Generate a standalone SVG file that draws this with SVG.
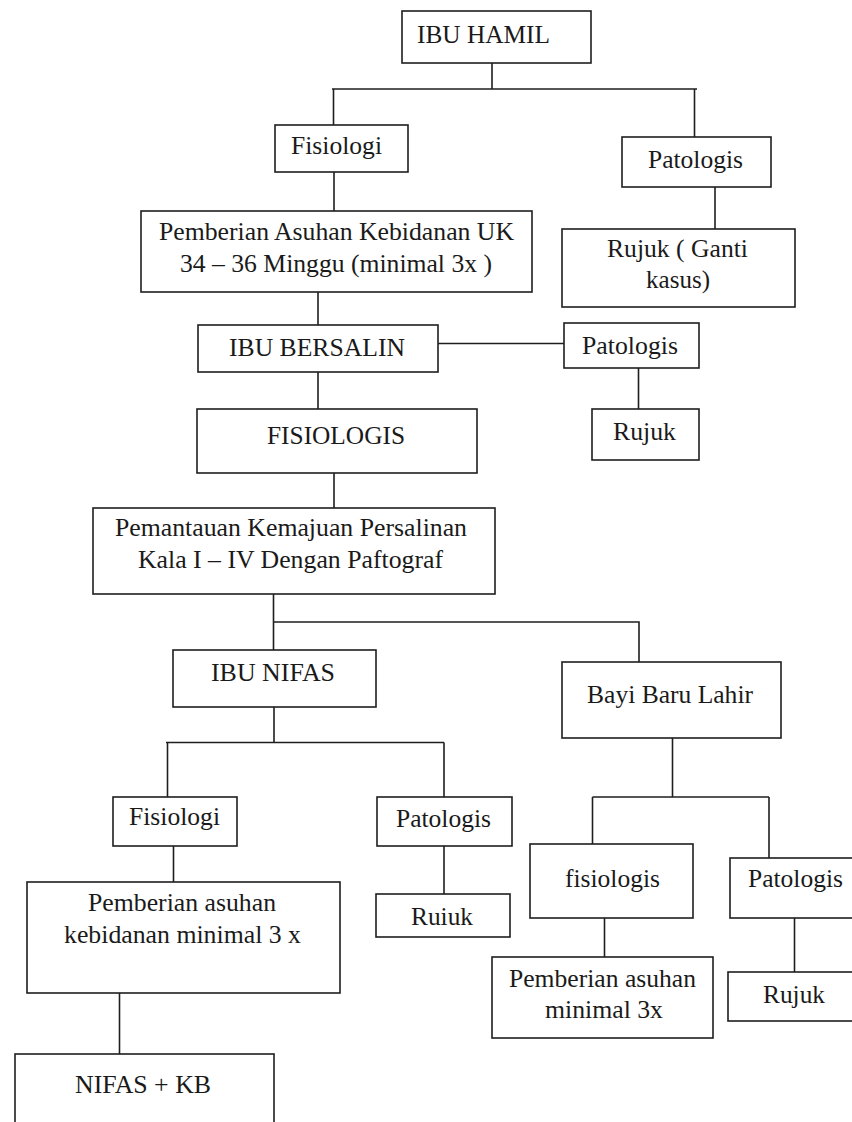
<svg xmlns="http://www.w3.org/2000/svg" width="852" height="1122" viewBox="0 0 852 1122" font-family="Liberation Serif, Times New Roman, Tinos, Noto Serif, DejaVu Serif, FreeSerif, serif">
<style>
  rect.box { fill: #ffffff; stroke: #1e1e1e; stroke-width: 1.6; }
  text { font-size: 25.5px; fill: #1a1a1a; }
  .conn path { fill: none; stroke: #1e1e1e; stroke-width: 1.6; }
</style>
<rect x="0" y="0" width="852" height="1122" fill="#ffffff"/>
<g class="conn" id="connectors">
  <path d="M492,63 V89"/>
  <path d="M332,89 H697"/>
  <path d="M333.5,89 V125"/>
  <path d="M694.5,89 V137"/>
  <path d="M715,187 V229"/>
  <path d="M334,172 V211"/>
  <path d="M318,292 V325"/>
  <path d="M438,343.5 H564"/>
  <path d="M638.5,368 V409"/>
  <path d="M318,372 V409"/>
  <path d="M334,473 V508"/>
  <path d="M273.5,594 V650"/>
  <path d="M273.5,622 H639 V662"/>
  <path d="M274,707 V742.5"/>
  <path d="M166,742.5 H444"/>
  <path d="M167.5,742.5 V797"/>
  <path d="M444,742.5 V797"/>
  <path d="M173.5,846 V882"/>
  <path d="M444,846 V894"/>
  <path d="M119.5,993 V1054"/>
  <path d="M672.5,738 V797"/>
  <path d="M592.5,797 H769"/>
  <path d="M592.5,797 V844"/>
  <path d="M769,797 V858"/>
  <path d="M604.5,918 V957"/>
  <path d="M794.5,918 V972"/>
</g>
<g id="ibu-hamil"><rect class="box" x="402" y="11" width="189" height="52"/><text x="417" y="43" textLength="133" lengthAdjust="spacingAndGlyphs">IBU HAMIL</text></g>
<g id="fisiologi-hamil"><rect class="box" x="275" y="125" width="133" height="47"/><text x="291" y="154" textLength="91" lengthAdjust="spacingAndGlyphs">Fisiologi</text></g>
<g id="patologis-hamil"><rect class="box" x="622" y="137" width="149" height="50"/><text x="648" y="168" textLength="95" lengthAdjust="spacingAndGlyphs">Patologis</text></g>
<g id="asuhan-hamil"><rect class="box" x="141" y="211" width="391" height="81"/><text x="159" y="240" textLength="355" lengthAdjust="spacingAndGlyphs">Pemberian Asuhan Kebidanan UK</text><text x="180" y="272" textLength="312" lengthAdjust="spacingAndGlyphs">34 – 36 Minggu (minimal 3x )</text></g>
<g id="rujuk-ganti"><rect class="box" x="562" y="229" width="233" height="78"/><text x="607" y="257" textLength="141" lengthAdjust="spacingAndGlyphs">Rujuk ( Ganti</text><text x="646" y="288" textLength="64" lengthAdjust="spacingAndGlyphs">kasus)</text></g>
<g id="ibu-bersalin"><rect class="box" x="198" y="325" width="240" height="47"/><text x="229" y="356" textLength="176" lengthAdjust="spacingAndGlyphs">IBU BERSALIN</text></g>
<g id="patologis-bersalin"><rect class="box" x="564" y="323" width="135" height="45"/><text x="582" y="354" textLength="96" lengthAdjust="spacingAndGlyphs">Patologis</text></g>
<g id="rujuk-bersalin"><rect class="box" x="592" y="409" width="107" height="51"/><text x="613" y="440" textLength="63" lengthAdjust="spacingAndGlyphs">Rujuk</text></g>
<g id="fisiologis-bersalin"><rect class="box" x="197" y="409" width="280" height="64"/><text x="267" y="444" textLength="138" lengthAdjust="spacingAndGlyphs">FISIOLOGIS</text></g>
<g id="pemantauan"><rect class="box" x="93" y="508" width="402" height="86"/><text x="115" y="536" textLength="352" lengthAdjust="spacingAndGlyphs">Pemantauan Kemajuan Persalinan</text><text x="138" y="568" textLength="305" lengthAdjust="spacingAndGlyphs">Kala I – IV Dengan Paftograf</text></g>
<g id="ibu-nifas"><rect class="box" x="173" y="650" width="203" height="57"/><text x="211" y="681" textLength="124" lengthAdjust="spacingAndGlyphs">IBU NIFAS</text></g>
<g id="bayi-baru-lahir"><rect class="box" x="562" y="662" width="219" height="76"/><text x="587" y="703" textLength="166" lengthAdjust="spacingAndGlyphs">Bayi Baru Lahir</text></g>
<g id="fisiologi-nifas"><rect class="box" x="113" y="797" width="124" height="49"/><text x="129" y="825" textLength="91" lengthAdjust="spacingAndGlyphs">Fisiologi</text></g>
<g id="patologis-nifas"><rect class="box" x="377" y="797" width="135" height="49"/><text x="396" y="827" textLength="95" lengthAdjust="spacingAndGlyphs">Patologis</text></g>
<g id="rujuk-nifas"><rect class="box" x="376" y="894" width="134" height="43"/><text x="411" y="925" textLength="62" lengthAdjust="spacingAndGlyphs">Ruiuk</text></g>
<g id="asuhan-nifas"><rect class="box" x="27" y="882" width="313" height="111"/><text x="88" y="911" textLength="188" lengthAdjust="spacingAndGlyphs">Pemberian asuhan</text><text x="64" y="943" textLength="237" lengthAdjust="spacingAndGlyphs">kebidanan minimal 3 x</text></g>
<g id="nifas-kb"><rect class="box" x="15" y="1054" width="259" height="90"/><text x="75" y="1093" textLength="136" lengthAdjust="spacingAndGlyphs">NIFAS + KB</text></g>
<g id="fisiologis-bayi"><rect class="box" x="530" y="844" width="163" height="74"/><text x="565" y="887" textLength="95" lengthAdjust="spacingAndGlyphs">fisiologis</text></g>
<g id="patologis-bayi"><rect class="box" x="730" y="858" width="130" height="60"/><text x="748" y="887" textLength="95" lengthAdjust="spacingAndGlyphs">Patologis</text></g>
<g id="asuhan-bayi"><rect class="box" x="492" y="957" width="221" height="81"/><text x="509" y="987" textLength="187" lengthAdjust="spacingAndGlyphs">Pemberian asuhan</text><text x="545" y="1018" textLength="118" lengthAdjust="spacingAndGlyphs">minimal 3x</text></g>
<g id="rujuk-bayi"><rect class="box" x="728" y="972" width="132" height="49"/><text x="763" y="1003" textLength="62" lengthAdjust="spacingAndGlyphs">Rujuk</text></g>
</svg>
